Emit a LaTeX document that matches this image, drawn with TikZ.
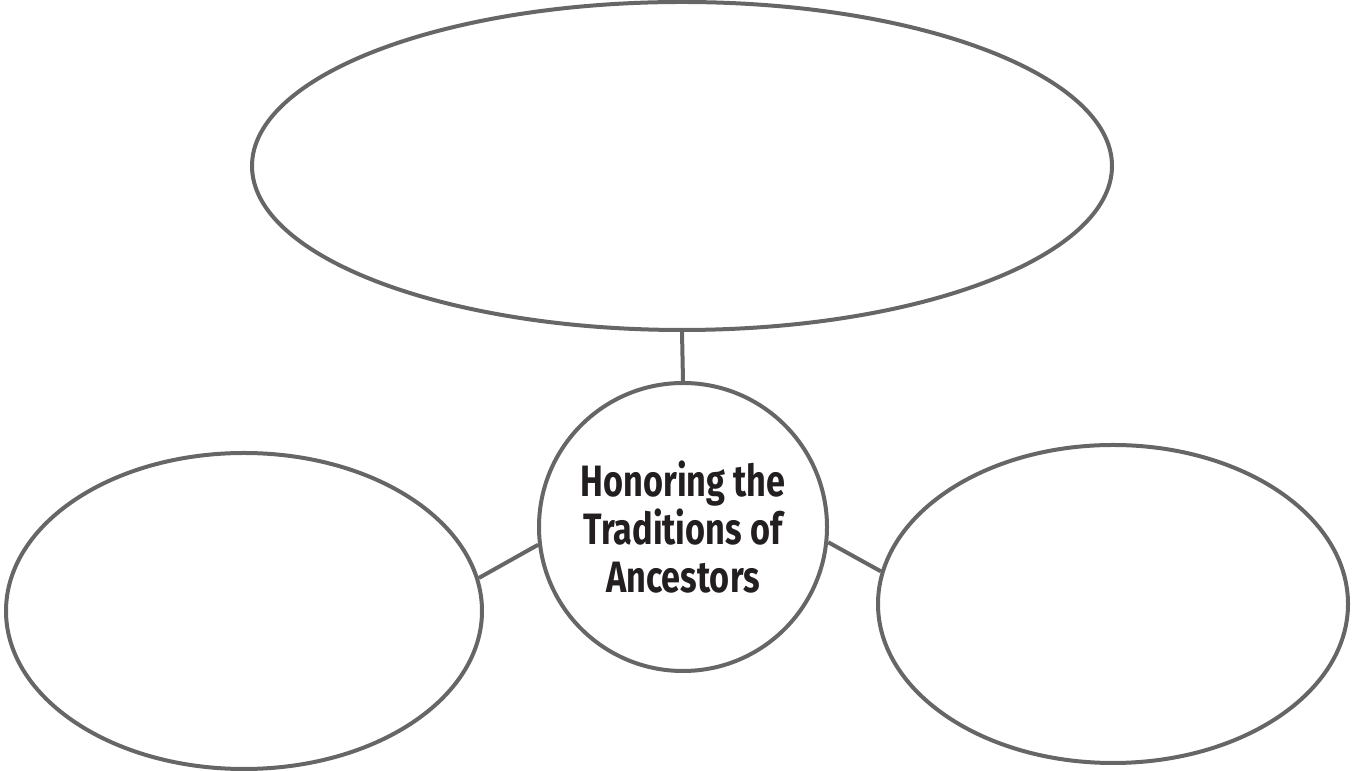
\documentclass[tikz,border=0pt]{standalone}
\usepackage{fontspec}
\setmainfont{Fira Sans}
\newfontfamily\hubfont[FakeStretch=0.78]{Fira Sans}
\usetikzlibrary{shapes.geometric}
\definecolor{rim}{HTML}{666666}
\definecolor{ink}{HTML}{231F20}

\begin{document}
\begin{tikzpicture}[b/.style={ellipse,draw=rim,line width=0.08cm,inner sep=0pt},
  ln/.style={draw=rim,line width=0.08cm}]
  \useasboundingbox (0,0) rectangle (27.16,15.42);
  \node[b,minimum width=17.2cm,minimum height=6.56cm] (top) at (13.64,12.10) {};
  \node[b,minimum width=9.52cm,minimum height=6.32cm] (lft) at (4.88,3.20) {};
  \node[b,minimum width=9.40cm,minimum height=6.36cm] (rgt) at (22.26,3.34) {};
  \node[circle,draw=rim,line width=0.08cm,minimum size=5.76cm,inner sep=0pt,align=center,
    text=ink,font=\hubfont\bfseries\fontsize{25}{27.4}\selectfont] (hub) at (13.66,4.88)
    {Honoring the\\Traditions of\\Ancestors};

  \draw[ln] (hub.north) -- (top.south);
  \draw[ln] (hub.187) -- (lft.8);
  \draw[ln] (hub.354) -- (rgt.172);
\end{tikzpicture}
\end{document}
